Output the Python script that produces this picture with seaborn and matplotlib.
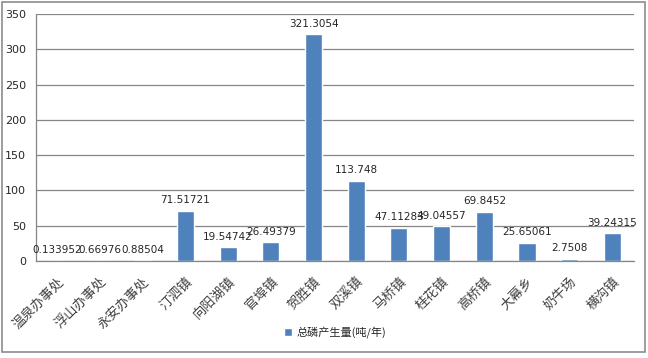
import matplotlib
matplotlib.use("Agg")
import matplotlib.pyplot as plt
import seaborn as sns
import pandas as pd
from matplotlib.patches import Rectangle

# data
towns = ["温泉办事处", "浮山办事处", "永安办事处", "汀泗镇", "向阳湖镇", "官埠镇", "贺胜镇",
         "双溪镇", "马桥镇", "桂花镇", "高桥镇", "大幕乡", "奶牛场", "横沟镇"]
phosphorus = [0.133952, 0.66976, 0.88504, 71.51721, 19.54742, 26.49379, 321.3054,
              113.748, 47.11283, 49.04557, 69.8452, 25.65061, 2.7508, 39.24315]
value_labels = ["0.133952", "0.66976", "0.88504", "71.51721", "19.54742", "26.49379", "321.3054",
                "113.748", "47.11283", "49.04557", "69.8452", "25.65061", "2.7508", "39.24315"]
series_name = "总磷产生量(吨/年)"
y_ticks = [0, 50, 100, 150, 200, 250, 300, 350]

df = pd.DataFrame({"town": towns, "value": phosphorus, "series": series_name})

sns.set_style("white")
plt.rcParams["font.family"] = ["Noto Sans CJK SC", "DejaVu Sans"]

fig = plt.figure(figsize=(6.48, 3.58), dpi=100)
ax = fig.add_axes([0.0556, 0.271, 0.9224, 0.690])

sns.barplot(data=df, x="town", y="value", hue="series", palette=["#4F81BD"],
            width=0.4, saturation=1, ax=ax)

grid_col = "#868686"
ax.set_ylim(0, 350)
ax.set_xlim(-0.5, len(towns) - 0.5)
ax.set_yticks(y_ticks)
ax.set_yticklabels([str(t) for t in y_ticks], fontsize=8, family="DejaVu Sans")
ax.yaxis.grid(True, color=grid_col, linewidth=0.9)
ax.set_axisbelow(True)
ax.set_xlabel("")
ax.set_ylabel("")

ax.set_xticks(range(len(towns)))
ax.set_xticklabels(towns, rotation=45, ha="right", rotation_mode="anchor",
                   fontsize=9.5, color="#404040")
ax.tick_params(axis="x", which="major", length=0, pad=10)
ax.set_xticks([i + 0.5 for i in range(-1, len(towns))], minor=True)
ax.tick_params(axis="x", which="minor", length=5, color=grid_col, width=0.9)
ax.tick_params(axis="y", length=5, color=grid_col, width=0.9, pad=2)

for side in ["top", "right"]:
    ax.spines[side].set_visible(False)
for side in ["left", "bottom"]:
    ax.spines[side].set_color(grid_col)
    ax.spines[side].set_linewidth(0.9)

for i, (v, lab) in enumerate(zip(phosphorus, value_labels)):
    ax.text(i, v + 8, lab, ha="center", va="bottom", fontsize=7.5, family="DejaVu Sans")

ax.legend(loc="upper center", bbox_to_anchor=(0.5, -0.225), frameon=False,
          fontsize=8, handlelength=0.7, handleheight=0.7, handletextpad=0.4)

# outer chart border
fig.patches.append(Rectangle((2 / 648, 6 / 358), 643 / 648, 350 / 358,
                             transform=fig.transFigure, fill=False,
                             edgecolor="#8c8c8c", linewidth=1.2))

fig.savefig("out.png", dpi=100)
